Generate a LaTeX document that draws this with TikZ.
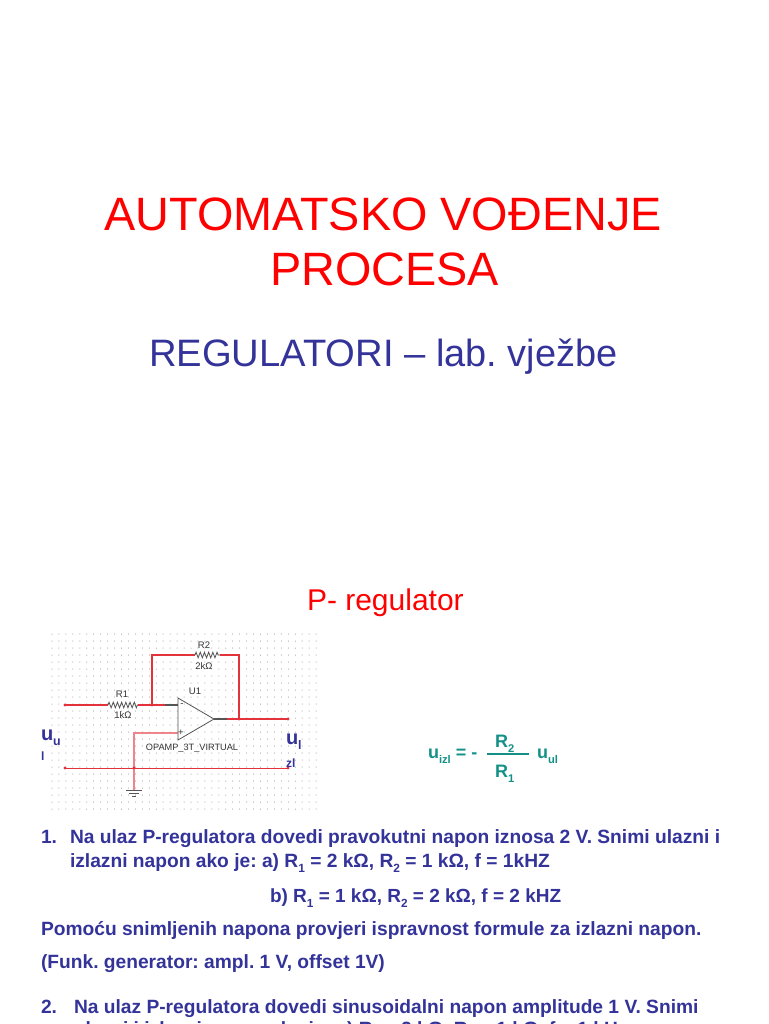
\documentclass[tikz,border=0pt]{standalone}
\usepackage{fontspec}
\setmainfont{Liberation Sans}
\usetikzlibrary{decorations.pathmorphing}
\definecolor{titlered}{RGB}{255,0,0}
\definecolor{navy}{RGB}{51,51,153}
\definecolor{tealtxt}{RGB}{20,145,135}
\definecolor{wirered}{RGB}{228,50,60}
\definecolor{opgray}{RGB}{85,85,85}
\newcommand{\fs}[1]{\fontsize{#1}{#1}\selectfont}
\newcommand{\low}[1]{\raisebox{-.28em}{\scalebox{.62}{#1}}}
\tikzset{
  txt/.style={anchor=base west,inner sep=0pt,outer sep=0pt},
  title/.style={anchor=base,inner sep=0pt,text=titlered,font=\fs{46.8}},
  body/.style={txt,text=navy,font=\bfseries\fs{19.2}},
  parts/.style={inner sep=0pt,text=black!80,font=\fs{9.5}},
  wire/.style={draw=wirered,line width=1.2pt},
  gray wire/.style={draw=opgray,line width=1.2pt},
  resistor/.style={draw=opgray,line width=.8pt,decorate,
    decoration={zigzag,segment length=4.2pt,amplitude=2.8pt}},
  junction/.style={circle,fill=wirered,inner sep=0pt,minimum size=3.4pt},
  formula/.style={txt,text=tealtxt,font=\bfseries\fs{18}}
}
\begin{document}
\frenchspacing
\begin{tikzpicture}[x=1pt,y=-1pt]
  \useasboundingbox (0,0) rectangle (768,1024);
  \fill[white] (0,0) rectangle (768,1024);
  % headings
  \node[title] (head1) at (383,230) {AUTOMATSKO VOĐENJE};
  \node[title] (head2) at (384.5,285) {PROCESA};
  \node[txt,text=navy,font=\fs{38.2}] (head3) at (149,366) {REGULATORI -- {\fs{37.9}lab. vježbe}};
  \node[txt,text=titlered,font=\fs{30}] (head4) at (307,610) {P- regulator};
  % dot grid
  \foreach \i in {0,...,38}
    \foreach \j in {0,...,25}
      \fill[black!50] (52+\i*6.95,634+\j*7) circle (.5pt);
  % circuit points
  \coordinate (in) at (65,705);
  \coordinate (r1a) at (108,705);
  \coordinate (r1b) at (138,705);
  \coordinate (jfb) at (152,705);
  \coordinate (opm) at (178,705);
  \coordinate (opp) at (178,733);
  \coordinate (optl) at (178,698);
  \coordinate (opbl) at (178,740);
  \coordinate (optip) at (214,719);
  \coordinate (jout) at (239,719);
  \coordinate (out) at (288,719);
  \coordinate (fbtl) at (152,655);
  \coordinate (fbtr) at (239,655);
  \coordinate (r2a) at (195,655);
  \coordinate (r2b) at (220,655);
  \coordinate (gl) at (65,768);
  \coordinate (gr) at (288,768);
  \coordinate (jgnd) at (134,768);
  \coordinate (pc) at (134,733);
  \coordinate (gnd) at (134,790);
  % wires
  \draw[wire] (in) -- (r1a);
  \draw[resistor] (r1a) -- (r1b);
  \draw[wire] (r1b) -- (jfb) -- (opm);
  \draw[wire] (jfb) -- (fbtl) -- (r2a);
  \draw[resistor] (r2a) -- (r2b);
  \draw[wire] (r2b) -- (fbtr) -- (jout);
  \draw[wire,line width=1.6pt] (optip) -- (out);
  \draw[gray wire,line width=1.6pt] (optip) -- +(13,0);
  \draw[gray wire] (opm) -- +(-13,0);
  \draw[wire,draw=wirered!60] (opp) -- (pc) -- (jgnd) -- (gnd);
  \draw[wire,line width=.9pt] (gl) -- (gr);
  % op amp
  \draw[draw=opgray,line width=.8pt] (optl) -- (optip) -- (opbl) -- cycle;
  \node[parts] (minus) at (182,705) {-};
  \node[parts] (plus) at (181,733) {+};
  % ground
  \draw[opgray,line width=.8pt] (126,790) -- (142,790) (129,793) -- (139,793) (132,796) -- (136,796);
  % dots on wires
  \foreach \p in {in,jfb,jout,out,gl,gr,jgnd}
    \node[junction] at (\p) {};
  % part labels
  \node[parts] (r1) at (122,694) {R1};
  \node[parts] (r1v) at (123,715) {1kΩ};
  \node[parts] (r2) at (204,645) {R2};
  \node[parts] (r2v) at (204,666) {2kΩ};
  \node[parts] (u1) at (195,691) {U1};
  \node[parts,font=\fs{9.2}] (opname) at (192,748) {OPAMP\_3T\_VIRTUAL};
  % voltage labels
  \node[txt,text=navy,font=\bfseries\fs{20}] (uu) at (41,740) {u\low{u}};
  \node[txt,text=navy,font=\bfseries\fs{12}] (uu2) at (41,760) {l};
  \node[txt,text=navy,font=\bfseries\fs{20}] (ui) at (286,744) {u\low{l}};
  \node[txt,text=navy,font=\bfseries\fs{12}] (ui2) at (286,767) {zl};
  % formula
  \node[formula] (uizl) at (428,758) {u\low{izl} = -};
  \node[formula] (nom) at (495,747) {R\low{2}};
  \node[formula] (den) at (495,777) {R\low{1}};
  \node[formula] (uul) at (537,758) {u\low{ul}};
  \coordinate (fl) at (487,754);
  \coordinate (fr) at (529,754);
  \draw[tealtxt,line width=1.2pt] (fl) -- (fr);
  % exercise text
  \node[body] (n1) at (41,843) {1.};
  \node[body] (l1) at (70,843) {Na ulaz P-regulatora dovedi pravokutni napon iznosa 2 V. Snimi ulazni i};
  \node[body] (l2) at (70,867) {izlazni napon ako je: a) R\low{1} = 2 kΩ, R\low{2} = 1 kΩ, f = 1kHZ};
  \node[body,font=\bfseries\fs{19}] (l3) at (270,902) {b) R\low{1} = 1 kΩ, R\low{2} = 2 kΩ, f = 2 kHZ};
  \node[body] (l4) at (41,935) {Pomoću snimljenih napona provjeri ispravnost formule za izlazni napon.};
  \node[body] (l5) at (41,968) {(Funk. generator: ampl. 1 V, offset 1V)};
  \node[body] (n2) at (41,1013) {2.};
  \node[body] (l6) at (74,1013) {Na ulaz P-regulatora dovedi sinusoidalni napon amplitude 1 V. Snimi};
  \node[body] (l7) at (74,1035) {ulazni i izlazni napon ako je: a) R\low{1} = 2 kΩ, R\low{2} = 1 kΩ, f = 1 kHz};
\end{tikzpicture}
\end{document}
